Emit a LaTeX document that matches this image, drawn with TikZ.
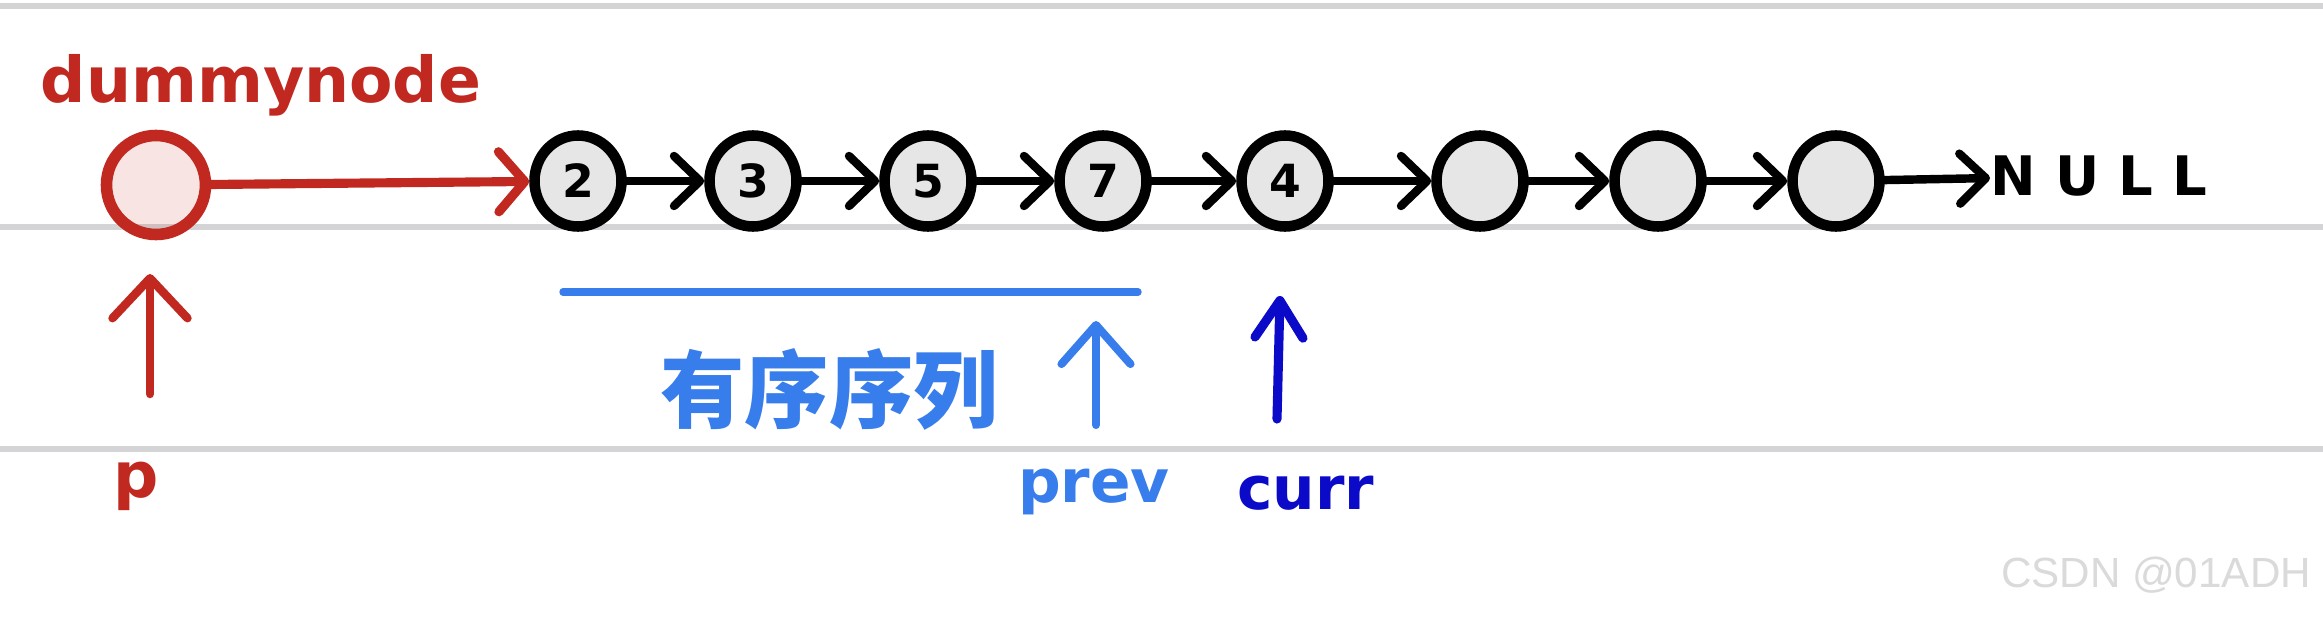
\documentclass[tikz,border=0pt]{standalone}
\usepackage{fontspec}
\usepackage{xcolor}
\usetikzlibrary{arrows.meta,positioning,shapes.geometric}
\setmainfont{DejaVu Sans}
\newfontfamily\cjk{Noto Sans CJK SC}
\newfontfamily\wmfont{Liberation Sans}

\definecolor{penred}{RGB}{192,40,32}
\definecolor{penblue}{RGB}{55,125,235}
\definecolor{pendark}{RGB}{10,10,200}
\definecolor{nodegray}{RGB}{230,230,230}
\definecolor{ruled}{RGB}{212,212,214}
\definecolor{wmgray}{RGB}{218,218,218}

\begin{document}
\begin{tikzpicture}[node distance=1.75cm,
    listnode/.style={ellipse, draw=black, fill=nodegray, line width=3pt, minimum width=0.87cm, minimum height=0.91cm, inner sep=0pt, font=\bfseries\fontsize{13}{13}\selectfont},
    headnode/.style={circle, draw=penred, fill=penred, fill opacity=0.12, draw opacity=1, line width=3.3pt, minimum size=0.99cm, inner sep=0pt},
    link/.style={-{Straight Barb[length=2.6mm, width=5mm, round]}, line width=2.4pt, line cap=round},
    redlink/.style={-{Straight Barb[length=2.6mm, width=6mm, round]}, line width=2.6pt, line cap=round, penred},
    label/.style={inner sep=0pt, font=\bfseries\fontsize{17}{17}\selectfont}]
    \fill [white] (0,0) rectangle (23.23,6.17);
    \path [use as bounding box] (0,0) rectangle (23.23,6.17);

    % ruled paper
    \foreach \y in {6.11,3.90,1.68}
        \draw [ruled, line width=1.7pt] (0,\y) -- (23.23,\y);

    % the list
    \node (dummy) [headnode] at (1.56,4.32) {};
    \node (dlabel) [label, text=penred, font=\bfseries\fontsize{18}{18}\selectfont] at (2.61,5.32) {dummynode};
    \node (n2) [listnode] at (5.78,4.36) {2};
    \node (n3) [listnode, right of=n2] {3};
    \node (n5) [listnode, right of=n3] {5};
    \node (n7) [listnode, right of=n5] {7};
    \node (n4) [listnode, right of=n7, xshift=0.07cm] {4};
    \node (e1) [listnode, right of=n4, xshift=0.2cm] {};
    \node (e2) [listnode, right of=e1, xshift=0.03cm] {};
    \node (e3) [listnode, right of=e2, xshift=0.03cm] {};
    \node (null) [label, anchor=west, font=\bfseries\fontsize{15.5}{15.5}\selectfont] at (19.90,4.41) {N\hspace{0.19cm}U\hspace{0.19cm}L\hspace{0.19cm}L};

    \draw [redlink] (dummy) -- (n2);
    \draw [link] (n2) -- (n3);
    \draw [link] (n3) -- (n5);
    \draw [link] (n5) -- (n7);
    \draw [link] (n7) -- (n4);
    \draw [link] (n4) -- (e1);
    \draw [link] (e1) -- (e2);
    \draw [link] (e2) -- (e3);
    \draw [link] (e3) -- (null);

    % sorted part
    \draw [penblue, line width=2.1pt, line cap=round] (5.63,3.25) -- (11.38,3.25);
    \node (sorted) [inner sep=0pt, text=penblue, font=\cjk\bfseries\fontsize{24}{24}\selectfont] at (8.29,2.28) {有序序列};

    % pointers
    \node (p) [label, text=penred, font=\bfseries\fontsize{18}{18}\selectfont] at (1.36,1.31) {p};
    \node (prev) [label, text=penblue] at (10.94,1.25) {prev};
    \node (curr) [label, text=pendark] at (13.06,1.24) {curr};
    \coordinate (ptail) at (1.50,2.23);
    \coordinate (phead) at (1.50,3.43);
    \coordinate (prevtail) at (10.96,1.92);
    \coordinate (prevhead) at (10.96,2.96);
    \coordinate (currtail) at (12.77,1.98);
    \coordinate (currhead) at (12.80,3.21);
    \draw [-{Straight Barb[length=4mm, width=7.5mm, round]}, line width=2.4pt, line cap=round, penred] (ptail) -- (phead);
    \draw [-{Straight Barb[length=3.9mm, width=6.9mm, round]}, line width=2.3pt, line cap=round, penblue] (prevtail) -- (prevhead);
    \draw [-{Straight Barb[length=3.7mm, width=4.8mm, round]}, line width=2.6pt, line cap=round, pendark] (currtail) -- (currhead);

    \node (mark) [text=wmgray, font=\wmfont\fontsize{12}{12}\selectfont] at (21.56,0.42) {CSDN @01ADH};
\end{tikzpicture}
\end{document}
